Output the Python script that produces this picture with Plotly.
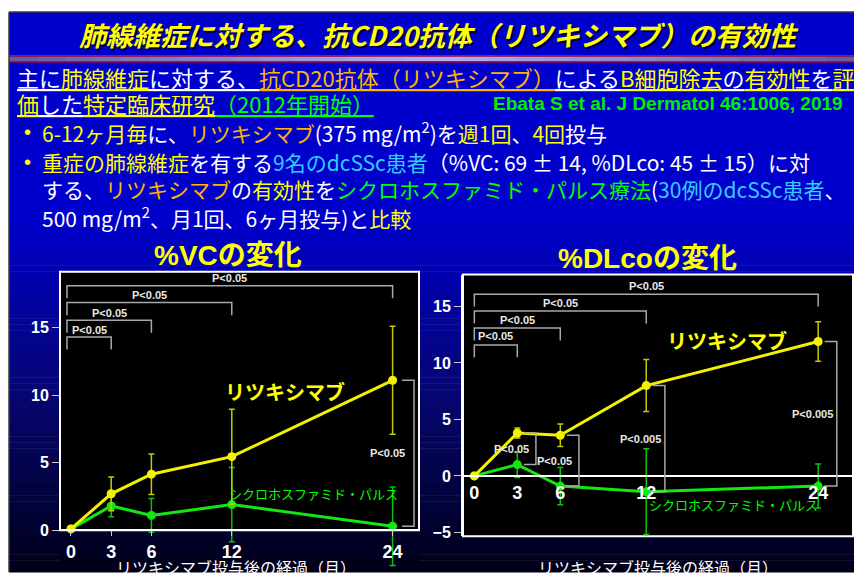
import plotly.graph_objects as go

W, H = 854, 577

# ---- data -------------------------------------------------------------
months = [0, 3, 6, 12, 24]
month_labels = ["0", "3", "6", "12", "24"]

# %VC change from baseline
vc_rit = [0.1, 2.7, 4.15, 5.45, 11.1]
vc_rit_err = [0, 1.25, 1.5, 3.5, 4.0]
vc_cyc = [0.1, 1.8, 1.1, 1.9, 0.3]
vc_cyc_err = [0, 0.8, 1.25, 2.75, 2.9]

# %DLco change from baseline
dl_rit = [0.0, 3.8, 3.6, 8.0, 11.9]
dl_rit_err = [0, 0.45, 1.0, 2.3, 1.75]
dl_cyc = [0.0, 1.0, -0.9, -1.4, -0.9]
dl_cyc_err = [0, 1.15, 1.65, 3.8, 1.95]

# significance vs. baseline (rituximab) and between groups
vc_trend_p = ["P<0.05", "P<0.05", "P<0.05", "P<0.05"]      # 3, 6, 12, 24 vs 0
vc_between = {24: "P<0.05"}
dl_trend_p = ["P<0.05", "P<0.05", "P<0.05", "P<0.05"]
dl_between = {3: "P<0.05", 6: "P<0.05", 12: "P<0.005", 24: "P<0.005"}

vc_yticks = [0, 5, 10, 15]
dl_yticks = [-5, 0, 5, 10, 15]

# ---- styling ----------------------------------------------------------
JP = "Noto Sans CJK JP"
AR = "Liberation Sans, Arial, Noto Sans CJK JP"
YEL = "#ffff00"
ORG = "#ffb400"
CYN = "#33ccff"
GRN = "#00ff00"
LINE_Y = "#f2f200"
ERR_Y = "#c8c800"
LINE_G = "#14e614"
ERR_G = "#10c010"
BRK = "#a8a8a8"


def px(x):
    return x / W


def py(y):
    return 1 - y / H


# VC panel: frame spans 0..19.14; the axis range reaches below 0 so the
# long error bars can hang under the time axis.
vc_px_per = 13.6
vc_dom_x = [px(60), px(419)]
vc_yr = [-3.0, 19.14]
vc_dom_y = [py(535 - vc_yr[0] * vc_px_per), py(274)]
vc_xr = [-0.82, 25.97]
vc_frame = [0, vc_yr[1]]

dl_dom_x = [px(463), px(853)]
dl_dom_y = [py(541), py(277)]
dl_xr = [-0.79, 26.43]
dl_yr = [-5.35, 17.83]
dl_frame = dl_yr

vc_levels = [14.3, 15.55, 16.85, 18.1]
dl_levels = [11.6, 13.1, 14.6, 16.1]


def y_to_paper(v, dom, rng):
    return dom[0] + (v - rng[0]) / (rng[1] - rng[0]) * (dom[1] - dom[0])


fig = go.Figure()


def add_series(x, y, err, color, ecolor, xa, ya):
    fig.add_trace(go.Scatter(
        x=x, y=y, mode="lines+markers",
        line=dict(color=color, width=3),
        marker=dict(color=color, size=9),
        error_y=dict(type="data", array=err, color=ecolor, thickness=1.5, width=3),
        xaxis=xa, yaxis=ya, cliponaxis=False, showlegend=False, hoverinfo="skip"))


add_series(months, vc_cyc, vc_cyc_err, LINE_G, ERR_G, "x", "y")
add_series(months, vc_rit, vc_rit_err, LINE_Y, ERR_Y, "x", "y")
add_series(months, dl_cyc, dl_cyc_err, LINE_G, ERR_G, "x2", "y2")
add_series(months, dl_rit, dl_rit_err, LINE_Y, ERR_Y, "x2", "y2")

shapes = []

# slide background: solid blue top, fading to dark navy toward the bottom
shapes.append(dict(type="rect", xref="paper", yref="paper", x0=px(9), x1=1, y0=py(220), y1=py(12),
                   fillcolor="rgb(0,0,204)", line=dict(width=0), layer="below"))
n = 60
top, bot = 220, H
for i in range(n):
    y0 = top + (bot - top) * i / n
    y1 = top + (bot - top) * (i + 1) / n + 0.5
    t = (i + 0.5) / n
    b = int(204 + (24 - 204) * t)
    r = int(6 * (1 - abs(2 * t - 1)))
    shapes.append(dict(type="rect", xref="paper", yref="paper", x0=px(9), x1=1, y0=py(y1), y1=py(y0),
                       fillcolor=f"rgb({r},{r},{b})", line=dict(width=0), layer="below"))

# title separator: red rules with a metallic strip between them
m = 30
for i in range(m):
    x0 = 9 + (W - 9) * i / m
    x1 = 9 + (W - 9) * (i + 1) / m + 0.5
    t = (i + 0.5) / m
    k = 1 - abs(2 * t - 1)
    c = int(95 + 85 * k)
    shapes.append(dict(type="rect", xref="paper", yref="paper", x0=px(x0), x1=px(x1), y0=py(62), y1=py(57),
                       fillcolor=f"rgb({c},{c},{min(255, c + 60)})", line=dict(width=0), layer="below"))
for yy in (56.3, 62.3):
    shapes.append(dict(type="line", xref="paper", yref="paper", x0=px(9), x1=1, y0=py(yy), y1=py(yy),
                       line=dict(color="#e00010", width=1.6), layer="below"))

# slide border
shapes.append(dict(type="line", xref="paper", yref="paper", x0=px(9), x1=1, y0=py(12), y1=py(12),
                   line=dict(color="#3a3a3a", width=1.5), layer="below"))
shapes.append(dict(type="line", xref="paper", yref="paper", x0=px(9), x1=px(9), y0=0, y1=py(12),
                   line=dict(color="#3a3a3a", width=1.5), layer="below"))

# black chart panels with white frame
for dx, dy, rng, fr in ((vc_dom_x, vc_dom_y, vc_yr, vc_frame), (dl_dom_x, dl_dom_y, dl_yr, dl_frame)):
    shapes.append(dict(type="rect", xref="paper", yref="paper", x0=dx[0], x1=dx[1],
                       y0=y_to_paper(fr[0], dy, rng), y1=y_to_paper(fr[1], dy, rng),
                       fillcolor="black", line=dict(color="white", width=2), layer="below"))

annotations = []


def note(x, y, text, font, xref="paper", yref="paper", xanchor="center", yanchor="middle"):
    annotations.append(dict(x=x, y=y, xref=xref, yref=yref, text=text, showarrow=False,
                            xanchor=xanchor, yanchor=yanchor, font=font))


pfont = dict(family=AR, size=11, color="#e8e8e8", weight="bold")


def trend_brackets(xa, ya, left, levels, labels, drop, lab_dy):
    for t, lev, lab in zip(months[1:], levels, labels):
        shapes.append(dict(type="path", xref=xa, yref=ya,
                           path=f"M {left},{lev - drop} V {lev} H {t} V {lev - drop}",
                           line=dict(color=BRK, width=1.5)))
        note((left + t) / 2, lev + lab_dy, lab.replace("<", "&lt;"), pfont, xa, ya)


def between_brackets(xa, ya, rit, cyc, pmap, a, b):
    for t, lab in pmap.items():
        i = months.index(t)
        r, c = rit[i], cyc[i]
        shapes.append(dict(type="path", xref=xa, yref=ya,
                           path=f"M {t + a},{r} H {t + b} V {c} H {t + a}",
                           line=dict(color=BRK, width=1.5)))
        note(t - 0.4, (r + c) / 2, lab.replace("<", "&lt;"), pfont, xa, ya)


trend_brackets("x", "y", -0.3, vc_levels, vc_trend_p, 0.93, 0.55)
trend_brackets("x2", "y2", 0, dl_levels, dl_trend_p, 1.1, 0.75)
between_brackets("x", "y", vc_rit, vc_cyc, vc_between, 0.7, 1.6)
between_brackets("x2", "y2", dl_rit, dl_cyc, dl_between, 0.45, 1.3)

# series labels inside the panels
big = dict(family=JP, size=20, color=YEL, weight="bold")
small = dict(family=JP, size=13, color=GRN)
note(16.0, 10.3, "リツキシマブ", big, "x", "y")
note(18.06, 2.7, "シクロホスファミド・パルス", small, "x", "y")
note(17.67, 12.0, "リツキシマブ", big, "x2", "y2")
note(18.1, -2.57, "シクロホスファミド・パルス", small, "x2", "y2")

# chart titles and time-axis titles
for cx, cy, txt in ((228, 258, "%VCの変化"), (647.5, 261, "%DLcoの変化")):
    note(px(cx), py(cy), txt, dict(family=AR, size=28, color=YEL, weight="bold"))
for cx in (236, 657.5):
    note(px(cx), py(572), "リツキシマブ投与後の経過（月）", dict(family=JP, size=16, color="white"))

# slide title with drop shadow
title = "<i>肺線維症に対する、抗CD20抗体（リツキシマブ）の有効性</i>"
note(px(441), py(37), title, dict(family=JP, size=27, color="#000040", weight="bold", style="italic"))
note(px(439), py(35), title, dict(family=JP, size=27, color=YEL, weight="bold", style="italic"))


def sp(color, s, ul=False):
    deco = ";text-decoration:underline" if ul else ""
    return f'<span style="color:{color}{deco}">{s}</span>'


WH = "#ffffff"
header = [
    (15, 78, "".join([sp(WH, "主に", 1), sp(YEL, "肺線維症", 1), sp(WH, "に対する、", 1),
                      sp(ORG, "抗CD20抗体（リツキシマブ）", 1), sp(WH, "による", 1), sp(YEL, "B細胞除去", 1),
                      sp(WH, "の", 1), sp(YEL, "有効性", 1), sp(WH, "を", 1), sp(YEL, "評", 1)])),
    (15, 104, "".join([sp(YEL, "価", 1), sp(WH, "した", 1), sp(YEL, "特定臨床研究", 1),
                       sp(GRN, "（2012年開始）", 1)])),
]
bullets = [
    (40, 133, "".join([sp(YEL, "6-12ヶ月毎"), sp(WH, "に、"), sp(ORG, "リツキシマブ"),
                       sp(WH, "(375 mg/m<sup>2</sup>)を"), sp(YEL, "週1回"), sp(WH, "、"), sp(YEL, "4回"),
                       sp(WH, "投与")])),
    (40, 163, "".join([sp(YEL, "重症の肺線維症"), sp(WH, "を有する"), sp(CYN, "9名のdcSSc患者"),
                       sp(WH, "（%VC: 69 ± 14, %DLco: 45 ± 15）に対")])),
    (40, 191, "".join([sp(WH, "する、"), sp(ORG, "リツキシマブ"), sp(WH, "の"), sp(YEL, "有効性"),
                       sp(WH, "を"), sp(GRN, "シクロホスファミド・パルス療法"), sp(WH, "("),
                       sp(CYN, "30例のdcSSc患者"), sp(WH, "、")])),
    (40, 219, "".join([sp(WH, "500 mg/m<sup>2</sup>、月1回、6ヶ月投与)と"), sp(YEL, "比較")])),
]
for x, y, txt in header:
    note(px(x), py(y), txt, dict(family=JP, size=22, color="white"), xanchor="left")
for x, y, txt in bullets:
    note(px(x), py(y), txt, dict(family=JP, size=21, color="white"), xanchor="left")
for y in (133, 163):
    note(px(22), py(y), "•", dict(family=AR, size=20, color=YEL), xanchor="left")

note(px(845), py(104), "Ebata S et al. J Dermatol 46:1006, 2019",
     dict(family=AR, size=19, color="#00ee00", weight="bold"), xanchor="right")

# time axes sit on the zero line of each panel
vc_zero = y_to_paper(0, vc_dom_y, vc_yr)
dl_zero = y_to_paper(0, dl_dom_y, dl_yr)

tick_x = dict(family=AR, size=18, color="white", weight="bold")
tick_y = dict(family=AR, size=16, color="white", weight="bold")

fig.update_layout(
    width=W, height=H, margin=dict(l=0, r=0, t=0, b=0),
    paper_bgcolor="white", plot_bgcolor="black",
    shapes=shapes, annotations=annotations,
    xaxis=dict(domain=vc_dom_x, range=vc_xr, tickvals=months, ticktext=month_labels, anchor="free",
               position=vc_zero, showline=True, linecolor="white", linewidth=2, ticks="outside", ticklen=5,
               tickcolor="#cccccc", tickfont=tick_x, showgrid=False, zeroline=False, fixedrange=True),
    yaxis=dict(domain=vc_dom_y, range=vc_yr, tickvals=vc_yticks, anchor="x",
               showline=False, ticks="outside", ticklen=7, tickcolor="#cccccc",
               tickfont=tick_y, showgrid=False, zeroline=False, fixedrange=True),
    xaxis2=dict(domain=dl_dom_x, range=dl_xr, tickvals=months, ticktext=month_labels, anchor="free",
                position=dl_zero, showline=True, linecolor="white", linewidth=2, ticks="",
                tickfont=tick_x, showgrid=False, zeroline=False, fixedrange=True),
    yaxis2=dict(domain=dl_dom_y, range=dl_yr, tickvals=dl_yticks, anchor="x2",
                showline=True, linecolor="white", linewidth=2, ticks="outside", ticklen=7, tickcolor="#cccccc",
                tickfont=tick_y, showgrid=False, zeroline=False, fixedrange=True),
)

fig.write_html("out.html", config={"displayModeBar": False})
